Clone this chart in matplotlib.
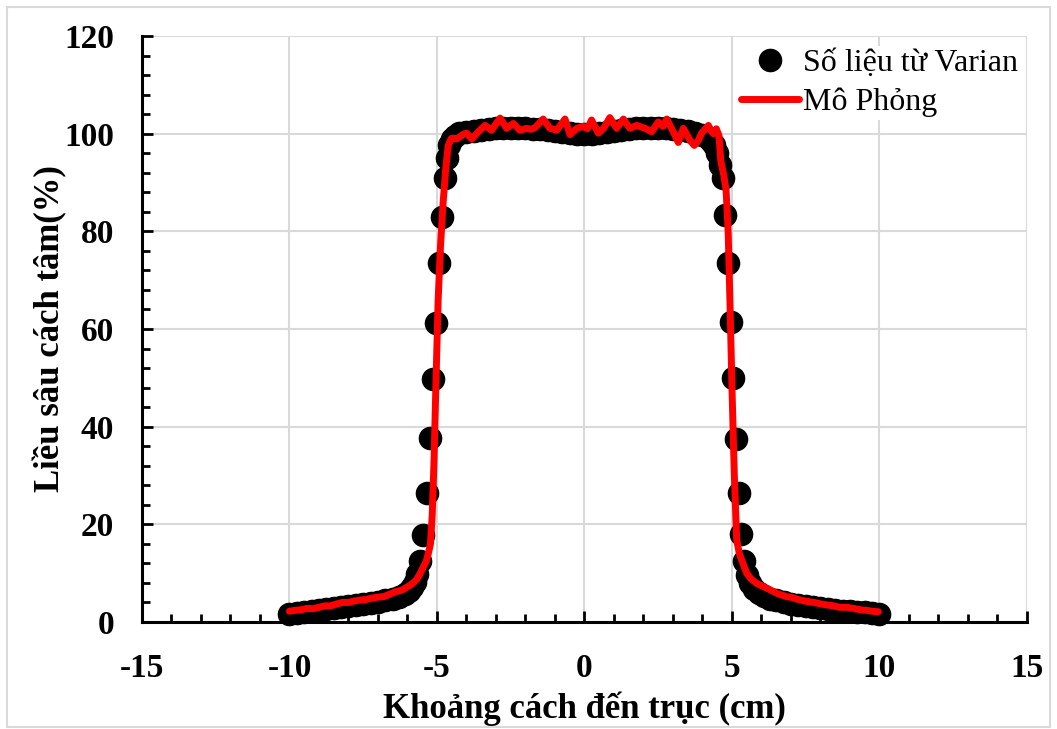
import matplotlib.pyplot as plt
from matplotlib.patches import Rectangle
from matplotlib.ticker import MultipleLocator

plt.rcParams['font.family'] = ['Liberation Serif', 'DejaVu Serif']
plt.rcParams['axes.unicode_minus'] = False

# --- du lieu doc tu hinh ---
# So lieu tu Varian (cham den)
varian_x = [-10.0, -9.75, -9.5, -9.25, -9.0, -8.75, -8.5, -8.25, -8.0, -7.75,
            -7.5, -7.25, -7.0, -6.75, -6.5, -6.3, -6.1, -5.95, -5.85, -5.75,
            -5.66, -5.56, -5.46, -5.35, -5.24, -5.15, -5.03, -4.92, -4.84, -4.73,
            -4.67, -4.58, -4.5, -4.4, -4.25, -4.0, -3.75, -3.5, -3.25, -3.0,
            -2.75, -2.5, -2.25, -2.0, -1.75, -1.5, -1.25, -1.0, -0.75, -0.5,
            -0.25, 0.0, 0.25, 0.5, 0.75, 1.0, 1.25, 1.5, 1.75, 2.0,
            2.25, 2.5, 2.75, 3.0, 3.25, 3.5, 3.75, 4.0, 4.15, 4.28,
            4.4, 4.5, 4.6, 4.69, 4.77, 4.86, 4.96, 5.04, 5.14, 5.24,
            5.32, 5.42, 5.52, 5.62, 5.75, 5.9, 6.1, 6.3, 6.5, 6.75,
            7.0, 7.25, 7.5, 7.75, 8.0, 8.25, 8.5, 8.75, 9.0, 9.25,
            9.5, 9.75, 10.0]
varian_y = [1.6, 1.8, 2.0, 2.2, 2.4, 2.6, 2.8, 3.0, 3.2, 3.4,
            3.6, 3.8, 4.1, 4.4, 4.8, 5.2, 5.8, 6.4, 7.2, 8.2,
            9.8, 12.5, 17.8, 26.5, 37.6, 49.8, 61.3, 73.5, 83.0, 90.9,
            95.0, 97.6, 98.9, 99.6, 100.1, 100.4, 100.6, 100.8, 101.0, 101.1,
            101.2, 101.2, 101.2, 101.1, 101.0, 100.9, 100.7, 100.5, 100.3, 100.2,
            100.0, 99.9, 100.0, 100.2, 100.4, 100.6, 100.8, 101.0, 101.1, 101.2,
            101.2, 101.2, 101.1, 101.0, 100.8, 100.5, 100.2, 99.8, 99.3, 98.6,
            97.6, 96.0, 93.5, 90.9, 83.3, 73.5, 61.5, 50.0, 37.5, 26.5,
            18.0, 12.5, 9.6, 8.0, 6.8, 6.0, 5.3, 4.8, 4.4, 4.0,
            3.7, 3.4, 3.2, 3.0, 2.8, 2.6, 2.5, 2.3, 2.2, 2.1,
            2.0, 1.8, 1.7]

# Mo phong (duong do)
mophong_x = [-10.0, -9.8, -9.6, -9.4, -9.2, -9.0, -8.8, -8.6, -8.4, -8.2,
             -8.0, -7.8, -7.6, -7.4, -7.2, -7.0, -6.8, -6.6, -6.4, -6.2,
             -6.0, -5.85, -5.7, -5.58, -5.46, -5.36, -5.29, -5.22, -5.16, -5.1,
             -5.03, -4.96, -4.88, -4.79, -4.7, -4.62, -4.52, -4.45, -4.34, -4.22,
             -4.1, -3.99, -3.82, -3.6, -3.37, -3.15, -2.86, -2.64, -2.41, -2.19,
             -1.96, -1.82, -1.68, -1.4, -1.17, -0.94, -0.66, -0.49, -0.26, -0.05,
             0.1, 0.24, 0.47, 0.66, 0.86, 1.09, 1.32, 1.54, 1.77, 2.05,
             2.28, 2.5, 2.66, 2.79, 3.01, 3.18, 3.35, 3.58, 3.72, 3.85,
             3.97, 4.2, 4.3, 4.37, 4.47, 4.56, 4.62, 4.72, 4.8, 4.87,
             4.93, 5.0, 5.08, 5.16, 5.25, 5.33, 5.42, 5.5, 5.65, 5.84,
             6.05, 6.29, 6.55, 6.85, 7.05, 7.31, 7.55, 7.8, 8.0, 8.21,
             8.45, 8.65, 8.9, 9.11, 9.35, 9.55, 9.75, 9.96]
mophong_y = [2.2, 2.4, 2.5, 2.8, 2.7, 3.0, 3.3, 3.3, 3.7, 4.0,
             4.0, 4.3, 4.5, 4.6, 4.9, 5.1, 5.2, 5.7, 6.2, 6.5,
             7.2, 7.8, 8.6, 9.8, 11.3, 12.5, 14.1, 16.0, 22.0, 33.0,
             50.0, 66.0, 77.0, 86.0, 93.0, 97.5, 99.0, 99.1, 98.9, 99.4,
             99.9, 100.1, 98.9, 100.4, 101.7, 100.7, 103.2, 101.1, 102.1, 100.7,
             101.1, 100.9, 101.2, 103.0, 101.1, 100.7, 103.0, 99.8, 101.1, 101.5,
             101.0, 102.8, 100.1, 101.2, 103.3, 101.1, 103.0, 101.1, 101.7, 101.1,
             100.4, 102.4, 101.5, 103.0, 100.4, 98.2, 101.1, 98.6, 97.6, 98.5,
             100.1, 101.7, 100.5, 100.0, 101.0, 99.6, 94.5, 91.5, 88.5, 80.0,
             66.0, 48.0, 30.0, 16.8, 14.0, 12.7, 11.2, 10.0, 8.8, 7.9,
             7.3, 6.6, 5.8, 5.2, 5.0, 4.5, 4.2, 4.0, 3.7, 3.5,
             3.3, 3.0, 3.0, 2.8, 2.5, 2.4, 2.2, 2.1]

fig = plt.figure(figsize=(10.57, 7.29), dpi=100)
fig.patches.append(Rectangle((7 / 1057, 2 / 729), 1043 / 1057, 720 / 729,
                             transform=fig.transFigure, fill=False,
                             edgecolor='#d9d9d9', linewidth=1.5))

ax = fig.add_axes([0.1343, 0.1468, 0.8373, 0.8038])

ax.plot(varian_x, varian_y, 'o', color='black', markersize=16,
        clip_on=False, zorder=3, label='Số liệu từ Varian')
ax.plot(mophong_x, mophong_y, '-', color='#ff0000', linewidth=5,
        solid_capstyle='round', solid_joinstyle='round',
        clip_on=False, zorder=4, label='Mô Phỏng')

ax.set_xlim(-15, 15)
ax.set_ylim(0, 120)
ax.xaxis.set_major_locator(MultipleLocator(5))
ax.xaxis.set_minor_locator(MultipleLocator(1))
ax.yaxis.set_major_locator(MultipleLocator(20))
ax.yaxis.set_minor_locator(MultipleLocator(4))

ax.grid(True, which='major', color='#d9d9d9', linewidth=1.5, zorder=0)
ax.set_axisbelow(True)

for s in ['top', 'right']:
    ax.spines[s].set_visible(False)
for s in ['left', 'bottom']:
    ax.spines[s].set_linewidth(2.2)
    ax.spines[s].set_zorder(5)

ax.tick_params(which='both', direction='in', width=2, color='black')
ax.tick_params(which='major', length=8, labelsize=24)
ax.tick_params(axis='y', which='major', pad=20)
ax.tick_params(axis='x', which='major', pad=22)
ax.tick_params(which='minor', length=6)
for lbl in ax.get_xticklabels() + ax.get_yticklabels():
    lbl.set_fontweight('bold')

ax.set_xlabel('Khoảng cách đến trục (cm)', fontsize=25, fontweight='bold',
              labelpad=6)
ax.set_ylabel('Liều sâu cách tâm(%)', fontsize=25, fontweight='bold',
              labelpad=-2)

leg = ax.legend(loc='upper right', bbox_to_anchor=(1.012, 1.011), fontsize=23,
                frameon=True, fancybox=False, framealpha=1, edgecolor='none',
                facecolor='white', handlelength=1.8, handletextpad=0.15,
                labelspacing=0.3, numpoints=1, borderpad=0.1)
leg.set_zorder(6)

fig.savefig('out.png', dpi=100)
